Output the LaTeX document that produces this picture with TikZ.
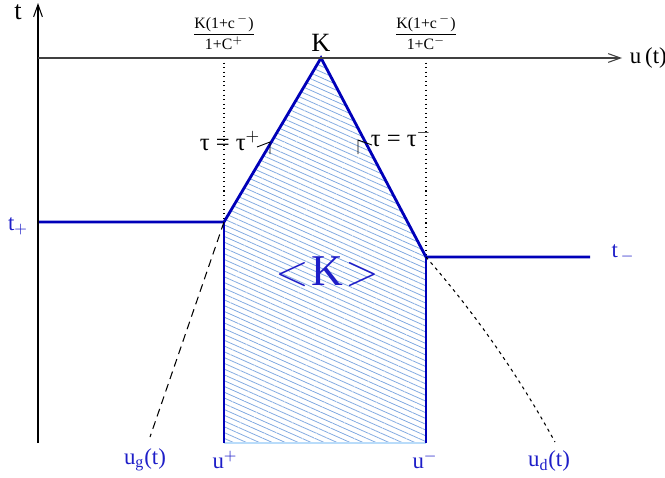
\documentclass[tikz,border=0pt]{standalone}
\usepackage{amsmath}
\usepackage{fontspec}
\setmainfont{Liberation Serif}
\usetikzlibrary{arrows.meta,patterns.meta,positioning}
\definecolor{bord}{RGB}{0,0,185}
\definecolor{lab}{RGB}{30,30,200}
\definecolor{hatch}{RGB}{130,170,225}
\definecolor{base}{RGB}{185,220,250}

\begin{document}
\begin{tikzpicture}[x=0.02cm,y=-0.02cm,
  axis/.style={line width=0.6pt,-{Straight Barb[length=7pt,width=5pt]}},
  edge/.style={draw=bord,line width=1.6pt},
  guide/.style={dotted,line width=0.6pt},
  every node/.style={font=\fontsize{13}{15}\selectfont}]
  \useasboundingbox (0,0) rectangle (665,477);
  % corners of the domain
  \coordinate (O) at (38,443);
  \coordinate (top) at (38,3);
  \coordinate (Y) at (38,58);
  \coordinate (right) at (622,58);
  \coordinate (apex) at (321,58);
  \coordinate (A) at (224,222);
  \coordinate (B) at (426,257);
  \coordinate (Abot) at (224,443);
  \coordinate (Bbot) at (426,443);
  \coordinate (Aaxis) at (224,58);
  \coordinate (Baxis) at (426,58);
  \coordinate (tplus) at (38,222);
  \coordinate (tminus) at (590,257);
  \coordinate (ugend) at (150,437);
  \coordinate (udend) at (555,442);
  % hatched region
  \fill[pattern={Lines[angle=-24,distance=3pt,line width=0.45pt]},pattern color=hatch]
    (Abot) -- (A) -- (apex) -- (B) -- (Bbot) -- cycle;
  \draw[base,line width=1.2pt] (Abot) -- (Bbot);
  \draw[guide] (Aaxis) -- (A);
  \draw[guide] (Baxis) -- (B);
  % boundary
  \draw[edge] (tplus) -- (A) -- (apex) -- (B) -- (tminus);
  \draw[edge] (A) -- (Abot);
  \draw[edge] (B) -- (Bbot);
  \draw[line width=0.6pt,dash pattern=on 4.5pt off 3pt] (A) -- (ugend);
  \draw[line width=0.6pt,dash pattern=on 1.8pt off 2.2pt]
    (B) .. controls (475.6,314) and (518.6,375.7) .. (udend);
  % axes
  \draw[axis] (O) -- (top);
  \draw[axis,black!75] (Y) -- (right);
  % characteristics marks
  \draw[line width=0.5pt] (257,147) -- (270,142) -- (270,154);
  \draw[line width=0.5pt] (372,145) -- (358,140) -- (358,154);
  % labels
  \node[font=\fontsize{15}{17}\selectfont] (tlab) at (18,12) {t};
  \node[right=1pt of right] (ulab) {u\,(t)};
  \node[above=0pt of apex,font=\fontsize{15}{17}\selectfont] (Klab) {K};
  \node[above=1pt of Aaxis,font=\fontsize{9}{11}\selectfont] (fracp)
    {$\dfrac{\text{K(1+c}^{\,-}\text{)}}{\text{1+C}^{+}}$};
  \node[above=1pt of Baxis,font=\fontsize{9}{11}\selectfont] (fracm)
    {$\dfrac{\text{K(1+c}^{\,-}\text{)}}{\text{1+C}^{-}}$};
  \node[font=\fontsize{14}{16}\selectfont] (taup) at (230,141) {τ = τ$^{+}$};
  \node[font=\fontsize{14}{16}\selectfont] (taum) at (401,137) {τ = τ$^{-}$};
  \node[text=lab] (tplab) at (18,226) {t$_{+}$};
  \node[text=lab] (tmlab) at (623,253) {t$_{\,-}$};
  \node[text=lab,font=\fontsize{25}{25}\selectfont] (avg) at (327,272)
    {$\mathord{<}\mkern1mu\mathrm{K}\mkern1mu\mathord{>}$};
  \node[text=lab] (uglab) at (145,460) {u\textsubscript{g}(t)};
  \node[text=lab] (uplab) at (225,460) {u$^{+}$};
  \node[text=lab] (umlab) at (425,460) {u$^{-}$};
  \node[text=lab] (udlab) at (549,461) {u\textsubscript{d}(t)};
\end{tikzpicture}
\end{document}
